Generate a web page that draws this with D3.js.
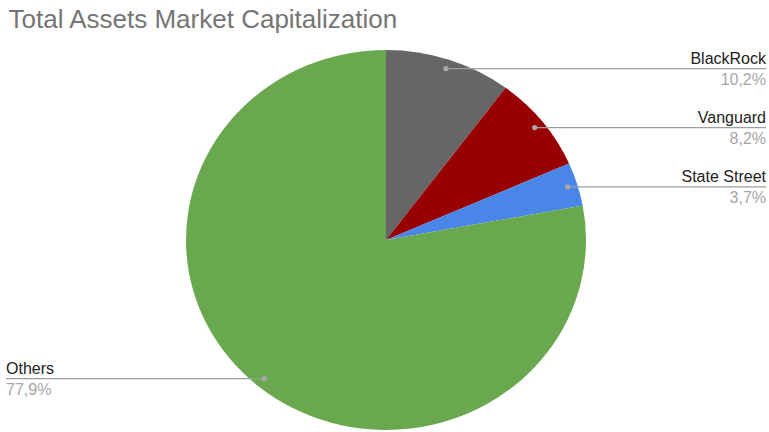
<!DOCTYPE html>
<html>
<head>
<meta charset="utf-8">
<script src="https://cdn.jsdelivr.net/npm/d3@7"></script>
<style>
  html, body { margin: 0; padding: 0; background: #fff; }
  svg { display: block; font-family: "Liberation Sans", Arial, sans-serif; }
</style>
</head>
<body>
<svg id="chart" width="769" height="432"></svg>
<script>
const categories = ["BlackRock", "Vanguard", "State Street", "Others"];
const values = [10.2, 8.2, 3.7, 77.9];
const percentLabels = ["10,2%", "8,2%", "3,7%", "77,9%"];
const colors = ["#666666", "#990000", "#4a86e8", "#6aa84f"];
const title = "Total Assets Market Capitalization";

const W = 769, H = 432;
const cx = 386, cy = 240, R = 200, yScale = 0.95;
const svg = d3.select("#chart");

svg.append("text")
  .attr("x", 8.5).attr("y", 27.5)
  .attr("font-size", 26)
  .attr("fill", "#757575")
  .text(title);

const data = categories.map((c, i) => ({ name: c, value: values[i], label: percentLabels[i], color: colors[i] }));
const pie = d3.pie().value(d => d.value).sort(null);
const arcs = pie(data);
const arc = d3.arc().innerRadius(0).outerRadius(R);

const g = svg.append("g").attr("transform", `translate(${cx},${cy}) scale(1,${yScale})`);
g.selectAll("path").data(arcs).enter().append("path")
  .attr("d", arc)
  .attr("fill", d => d.data.color);

const dotArc = d3.arc().innerRadius(R * 0.95).outerRadius(R * 0.95);
const labels = svg.append("g");
arcs.forEach(a => {
  const [px, py0] = dotArc.centroid(a);
  const x = cx + px, y = cy + py0 * yScale;
  const right = x >= cx;
  const x2 = right ? 766 : 6;
  labels.append("line")
    .attr("x1", x).attr("y1", y).attr("x2", x2).attr("y2", y)
    .attr("stroke", "#9e9e9e").attr("stroke-width", 1.3);
  labels.append("circle").attr("cx", x).attr("cy", y).attr("r", 2.6).attr("fill", "#a8a8a8");
  labels.append("text")
    .attr("x", x2).attr("y", y - 4.5)
    .attr("text-anchor", right ? "end" : "start")
    .attr("font-size", 16).attr("fill", "#222")
    .text(a.data.name);
  labels.append("text")
    .attr("x", x2).attr("y", y + 16.5)
    .attr("text-anchor", right ? "end" : "start")
    .attr("font-size", 16).attr("fill", "#a6a6a6")
    .text(a.data.label);
});
</script>
</body>
</html>
